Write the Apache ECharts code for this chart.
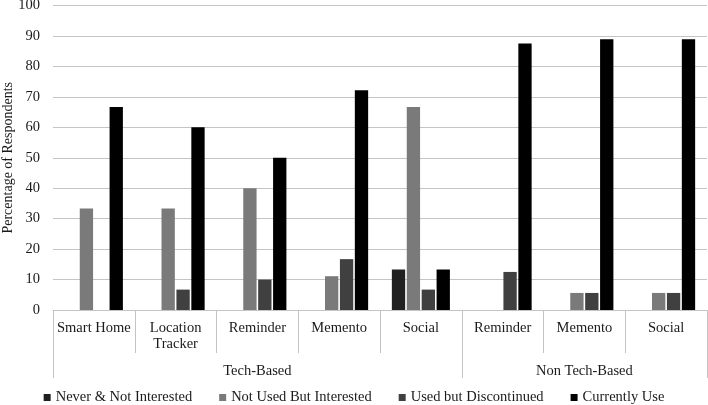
<!DOCTYPE html>
<html>
<head>
<meta charset="utf-8">
<script src="https://cdn.jsdelivr.net/npm/echarts@6/dist/echarts.min.js"></script>
<style>
  html, body { margin: 0; padding: 0; background: #fff; }
  #chart { width: 708px; height: 405px; }
</style>
</head>
<body>
<div id="chart"></div>
<script>
var categories = ['Smart Home', 'Location\nTracker', 'Reminder', 'Memento', 'Social', 'Reminder', 'Memento', 'Social'];
var groupOf = ['Tech-Based', 'Tech-Based', 'Tech-Based', 'Tech-Based', 'Tech-Based', 'Non Tech-Based', 'Non Tech-Based', 'Non Tech-Based'];

var neverInterested = [0, 0, 0, 0, 13.3, 0, 0, 0];
var notUsedInterested = [33.3, 33.3, 40, 11.1, 66.7, 0, 5.6, 5.6];
var usedDiscontinued = [0, 6.7, 10, 16.7, 6.7, 12.5, 5.6, 5.6];
var currentlyUse = [66.7, 60, 50, 72.2, 13.3, 87.5, 88.9, 88.9];

var yTicks = { min: 0, max: 100, interval: 10 };

// group level: tick at start of each group, label at middle of each group
var groupStarts = [];
var groupMids = [];
(function () {
  var start = 0;
  for (var i = 1; i <= groupOf.length; i++) {
    if (i === groupOf.length || groupOf[i] !== groupOf[start]) {
      groupStarts.push(start);
      groupMids.push(Math.floor((start + i - 1) / 2));
      start = i;
    }
  }
})();

var FONT = "'Liberation Serif', 'Times New Roman', serif";
var LINE = '#c4c4c4';
var TEXT = '#1a1a1a';

function bar(name, data, color) {
  return {
    name: name,
    type: 'bar',
    data: data,
    barGap: '12%',
    barCategoryGap: '29%',
    itemStyle: { color: color }
  };
}

var myChart = echarts.init(document.getElementById('chart'));

var option = {
  animation: false,
  backgroundColor: '#fff',
  textStyle: { fontFamily: FONT },
  grid: { left: 53, right: 1, top: 5.5, bottom: 95, outerBoundsMode: 'none', containLabel: false },
  legend: {
    top: 385,
    left: 'center',
    icon: 'rect',
    itemWidth: 7,
    itemHeight: 7,
    itemGap: 27,
    textStyle: { fontFamily: FONT, fontSize: 14.5, color: TEXT }
  },
  xAxis: [{
    type: 'category',
    data: categories,
    axisLine: { show: true, lineStyle: { color: LINE } },
    axisTick: { show: true, interval: 0, length: 43, lineStyle: { color: LINE } },
    axisLabel: { interval: 0, margin: 10, fontFamily: FONT, fontSize: 14.5, color: TEXT, lineHeight: 16 }
  }, {
    type: 'category',
    position: 'bottom',
    data: groupOf.map(function (g, i) { return groupMids.indexOf(i) >= 0 ? g : ''; }),
    axisLine: { show: false },
    axisTick: {
      show: true,
      length: 68,
      interval: function (i) { return groupStarts.indexOf(i) >= 0; },
      lineStyle: { color: LINE }
    },
    axisLabel: {
      interval: function (i) { return groupMids.indexOf(i) >= 0; },
      margin: 54, fontFamily: FONT, fontSize: 14.5, color: TEXT
    }
  }],
  yAxis: {
    type: 'value',
    min: yTicks.min,
    max: yTicks.max,
    interval: yTicks.interval,
    name: 'Percentage of Respondents',
    nameLocation: 'middle',
    nameGap: 38,
    nameMoveOverlap: false,
    nameTextStyle: { fontFamily: FONT, fontSize: 14, color: TEXT },
    axisLine: { show: false },
    axisTick: { show: false },
    axisLabel: { margin: 13, fontFamily: FONT, fontSize: 14.5, color: TEXT },
    splitLine: { lineStyle: { color: LINE, width: 1 } }
  },
  series: [
    bar('Never & Not Interested', neverInterested, '#202020'),
    bar('Not Used But Interested', notUsedInterested, '#7a7a7a'),
    bar('Used but Discontinued', usedDiscontinued, '#404040'),
    bar('Currently Use', currentlyUse, '#000000')
  ]
};

myChart.setOption(option);
</script>
</body>
</html>
